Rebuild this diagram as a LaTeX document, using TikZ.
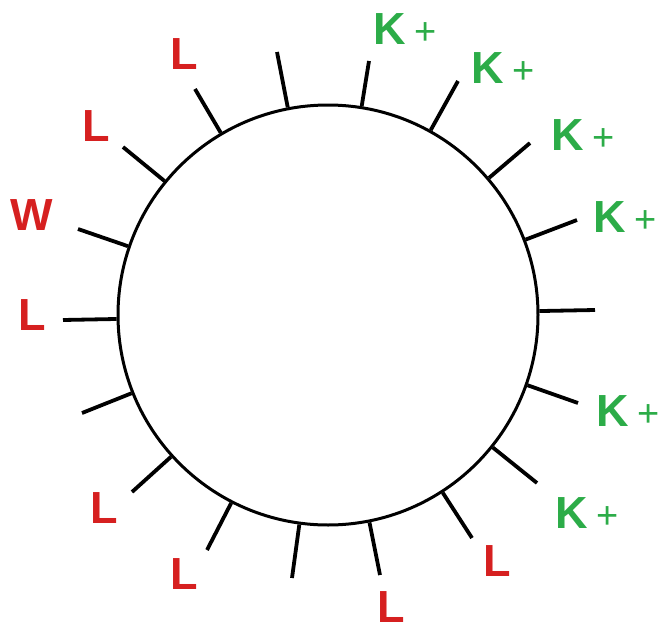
\documentclass[tikz,border=0pt]{standalone}
\usepackage{fontspec}
\setmainfont{Liberation Sans}
\definecolor{ionred}{RGB}{214,32,32}
\definecolor{iongreen}{RGB}{44,172,72}
\tikzset{
  cellring/.style={circle,draw=black,line width=3pt,minimum size=420pt,inner sep=0pt},
  spoke/.style={draw=black,line width=3.8pt},
  lbl/.style={text=ionred,font=\fontsize{45}{45}\selectfont\bfseries,inner sep=0pt,anchor=center},
  kion/.style={text=iongreen,font=\fontsize{45}{45}\selectfont\bfseries,inner sep=0pt,anchor=center},
}
\newcommand{\kplus}{K\hspace{8pt}{\fontsize{38}{38}\selectfont\mdseries +}}
\begin{document}
\begin{tikzpicture}[x=1pt,y=-1pt]
\useasboundingbox (0,0) rectangle (659,632);
\node[cellring] (cell) at (328,315) {};
% spoke outer ends
\coordinate (s0) at (595,310);
\coordinate (s20) at (577,220);
\coordinate (s40) at (530,143);
\coordinate (s60) at (458,81);
\coordinate (s80) at (369,61);
\coordinate (s100) at (277,52);
\coordinate (s120) at (195,89);
\coordinate (s140) at (123,147);
\coordinate (s160) at (78,229);
\coordinate (s180) at (63,320);
\coordinate (s200) at (82,413);
\coordinate (s220) at (132,492);
\coordinate (s240) at (207,550);
\coordinate (s260) at (292,578);
\coordinate (s280) at (380,575);
\coordinate (s300) at (472,538);
\coordinate (s320) at (537,483);
\coordinate (s340) at (578,403);
\foreach \a in {0,20,...,340} {\draw[spoke] (cell) -- (s\a);}
% labels
\node[kion] (k80) at (405,29) {\kplus};
\node[kion] (k60) at (503,68) {\kplus};
\node[kion] (k40) at (583,135) {\kplus};
\node[kion] (k20) at (625,217) {\kplus};
\node[kion] (k340) at (628,411) {\kplus};
\node[kion] (k320) at (587,513) {\kplus};
\node[lbl] (l300) at (497,561) {L};
\node[lbl] (l280) at (391,607) {L};
\node[lbl] (l240) at (184,574) {L};
\node[lbl] (l220) at (104,508) {L};
\node[lbl] (l180) at (32,315) {L};
\node[lbl] (w160) at (32,215) {W};
\node[lbl] (l140) at (96,126) {L};
\node[lbl] (l120) at (184,54) {L};
\end{tikzpicture}
\end{document}
